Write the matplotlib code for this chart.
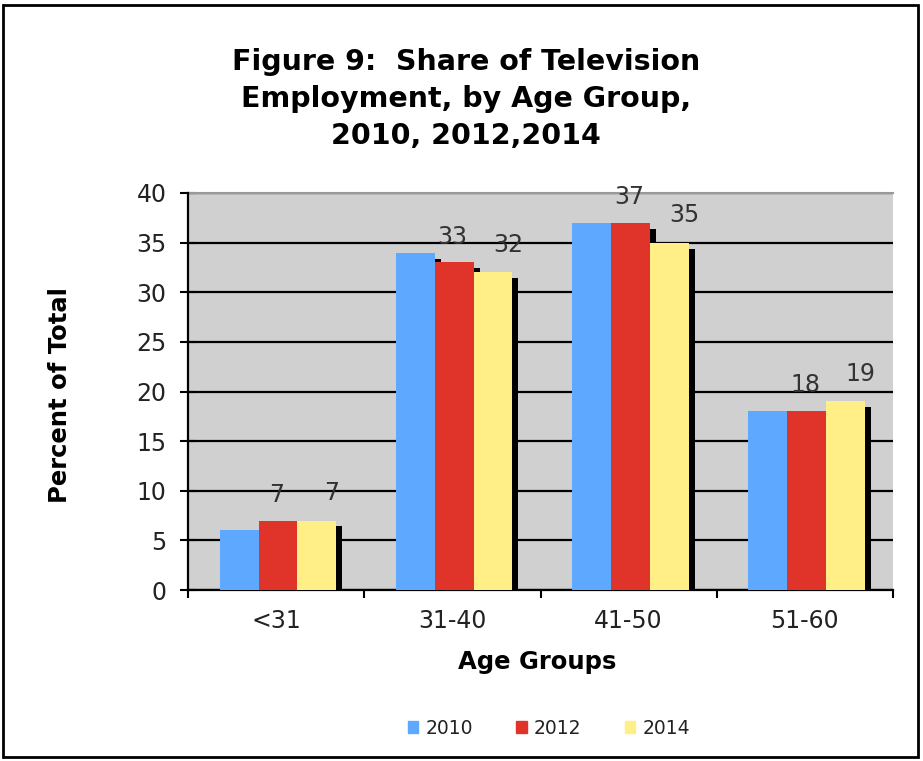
import matplotlib
matplotlib.use("Agg")
import matplotlib.pyplot as plt
from matplotlib.patches import Rectangle, Patch
import numpy as np

categories = ["<31", "31-40", "41-50", "51-60"]
years = ["2010", "2012", "2014"]
vals_2010 = [6, 34, 37, 18]
vals_2012 = [7, 33, 37, 18]
vals_2014 = [7, 32, 35, 19]
labels_2012 = ["7", "33", "37", "18"]
labels_2014 = ["7", "32", "35", "19"]
y_ticks = [0, 5, 10, 15, 20, 25, 30, 35, 40]

colors = ["#5EA9FF", "#E0342B", "#FFEF86"]

fig = plt.figure(figsize=(9.23, 7.61), dpi=100)
ax = fig.add_axes([188/923, 1-590/761, (893-188)/923, (590-193)/761])
ax.set_facecolor("#D0D0D0")

x = np.arange(len(categories)) + 0.51
w = 0.22
series = [vals_2010, vals_2012, vals_2014]
offsets = [-w, 0, w]
dx, dy = 0.034, 0.6
for vals, off in zip(series, offsets):
    ax.bar(x + off + dx, np.array(vals) - dy, width=w, color="black", zorder=2, linewidth=0)
for vals, off, c, yr in zip(series, offsets, colors, years):
    ax.bar(x + off, vals, width=w, color=c, zorder=3, linewidth=0, label=yr)

for xi, v, lab in zip(x, vals_2012, labels_2012):
    ax.annotate(lab, (xi, v), xytext=(-1, 10), textcoords="offset points",
                ha="center", va="bottom", fontsize=17, color="#333333", zorder=5)
for xi, v, lab in zip(x, vals_2014, labels_2014):
    ax.annotate(lab, (xi + w, v), xytext=(11, 11), textcoords="offset points",
                ha="center", va="bottom", fontsize=17, color="#333333", zorder=5)

ax.set_xlim(0, 4)
ax.set_ylim(0, 40)
ax.set_yticks(y_ticks)
ax.set_yticklabels([str(t) for t in y_ticks], fontsize=17, color="#222222")
ax.set_xticks(np.arange(len(categories)) + 0.5)
ax.set_xticklabels(categories, fontsize=17, color="#222222")
ax.set_xticks([0, 1, 2, 3, 4], minor=True)
ax.tick_params(axis="x", which="major", length=0, pad=14)
ax.tick_params(axis="x", which="minor", length=6, width=1.5, direction="out")
ax.tick_params(axis="y", length=11, width=1.5, direction="inout", pad=10)
ax.yaxis.grid(True, color="black", linewidth=1.6, zorder=1)
ax.set_axisbelow(True)
for s in ["top", "right"]:
    ax.spines[s].set_visible(False)
ax.spines["left"].set_linewidth(1.6)
ax.spines["bottom"].set_linewidth(1.6)
ax.plot([0, 4], [40, 40], color="#999999", linewidth=1.5, zorder=1, clip_on=False)

ax.set_ylabel("Percent of Total", fontsize=17.5, fontweight="bold")
ax.yaxis.set_label_coords((60-188)/705, 0.49)
ax.yaxis.label.set_va("center")
ax.set_xlabel("Age Groups", fontsize=17.5, fontweight="bold")
ax.xaxis.set_label_coords((537-188)/705, (590-662)/397)
ax.xaxis.label.set_va("center")

fig.text(466/923, 1-99/761, "Figure 9:  Share of Television\nEmployment, by Age Group,\n2010, 2012,2014",
         ha="center", va="center", fontsize=20.5, fontweight="bold", linespacing=1.42)

handles = [Patch(color=c) for c in colors]
fig.legend(handles, years, loc="center", bbox_to_anchor=(549/923, 1-728/761), ncol=3,
           frameon=False, fontsize=13.5, handlelength=0.55, handleheight=0.55,
           handletextpad=0.4, columnspacing=2.3, labelcolor="#222222")

fig.patches.append(Rectangle((3/923, 4/761), 915/923, 752/761, transform=fig.transFigure,
                             fill=False, edgecolor="black", linewidth=2))

fig.savefig("out.png", dpi=100)
